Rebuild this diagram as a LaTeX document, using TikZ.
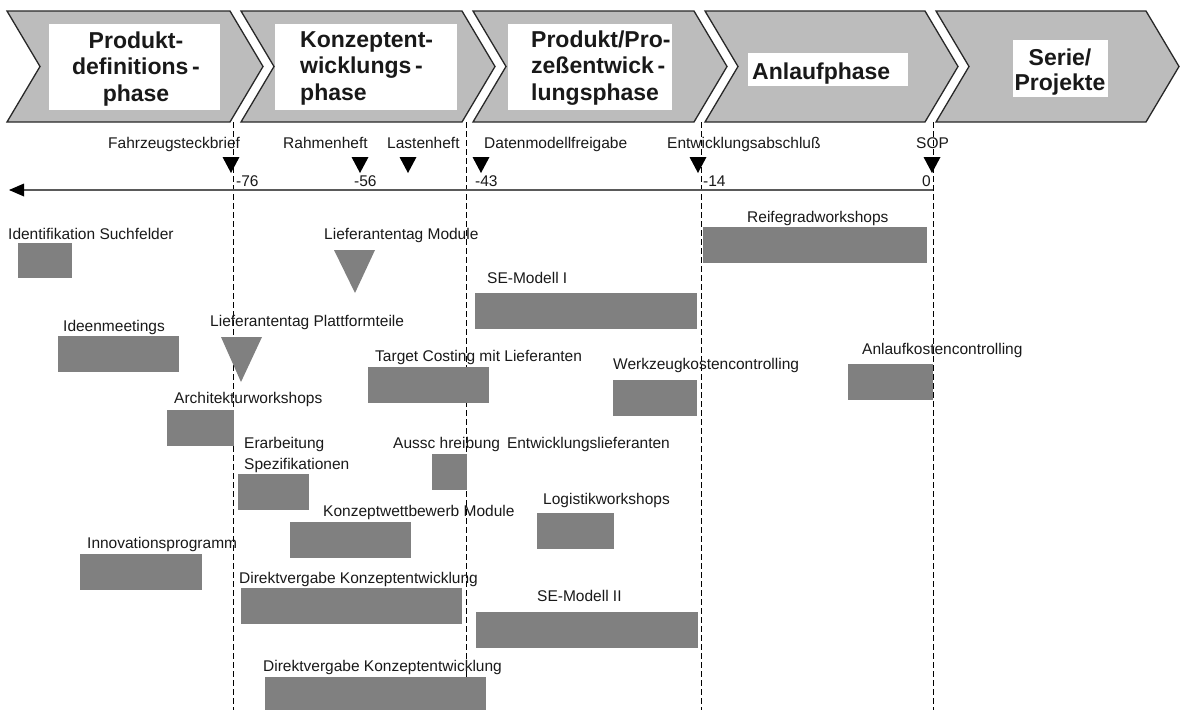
\documentclass[tikz,border=0pt]{standalone}
\usepackage{fontspec}
\setmainfont{Liberation Sans}
\definecolor{phasegray}{RGB}{188,188,188}
\definecolor{phaseline}{RGB}{40,40,40}
\definecolor{bargray}{RGB}{128,128,128}
\definecolor{axisgray}{RGB}{90,90,90}
\definecolor{ink}{RGB}{25,25,25}
\begin{document}
\begin{tikzpicture}[x=1pt,y=-1pt,
  phase/.style={draw=phaseline, line width=1.3pt, fill=phasegray, line join=miter},
  titlebox/.style={fill=white},
  title/.style={font=\fontsize{23}{26.5}\selectfont\bfseries, inner sep=0pt, text=ink},
  lbl/.style={font=\fontsize{15.5}{21}\selectfont, anchor=base west, inner sep=0pt, text=ink},
  num/.style={lbl},
  bar/.style={fill=bargray},
  milestone/.style={fill=black},
  event/.style={fill=bargray},
  guide/.style={draw=black, line width=1pt, dash pattern=on 6pt off 3pt},
  axis/.style={draw=axisgray, line width=2.5pt}
]
\useasboundingbox (0,0) rectangle (1180,710);

% ---- phase chevrons ----
\path[phase] (7,11) -- (230,11) -- (263,66.5) -- (230,122) -- (7,122) -- (40,66.5) -- cycle;
\path[phase] (241,11) -- (462,11) -- (495,66.5) -- (462,122) -- (241,122) -- (274,66.5) -- cycle;
\path[phase] (473,11) -- (694,11) -- (727,66.5) -- (694,122) -- (473,122) -- (506,66.5) -- cycle;
\path[phase] (705,11) -- (925,11) -- (958,66.5) -- (925,122) -- (705,122) -- (738,66.5) -- cycle;
\path[phase] (936,11) -- (1146,11) -- (1179,66.5) -- (1146,122) -- (936,122) -- (969,66.5) -- cycle;

\fill[titlebox] (49,24) rectangle (220,110);
\fill[titlebox] (275,24) rectangle (457,110);
\fill[titlebox] (508,24) rectangle (672,110);
\fill[titlebox] (748,53) rectangle (908,86);
\fill[titlebox] (1013,40) rectangle (1108,97);

% multi-line titles: the base anchor sits on the last line
\node[title, anchor=base, align=center] (p1) at (136,101) {Produkt-\\definitions\,-\\phase};
\node[title, anchor=base west, align=left] (p2) at (300,100) {Konzeptent-\\wicklungs\,-\\phase};
\node[title, anchor=base west, align=left] (p3) at (531,100) {Produkt/Pro-\\zeßentwick\,-\\lungsphase};
\node[title, anchor=base west] (p4) at (752,79) {Anlaufphase};
\node[title, anchor=base, align=center, font=\fontsize{23}{25}\selectfont\bfseries] (p5) at (1060,90) {Serie/\\Projekte};

% ---- phase boundaries ----
\foreach \gx/\gn in {233/g1, 466/g2, 701/g3, 933/g4} {
  \coordinate (\gn top) at (\gx,122);
  \coordinate (\gn bot) at (\gx,710);
  \draw[guide] (\gn top) -- (\gn bot);
}

% ---- time axis ----
\coordinate (axisL) at (9,190);
\coordinate (axisR) at (933,190);
\draw[axis] (axisR) -- ([xshift=12pt]axisL);
\fill[black] (axisL) -- ++(15,-6.5) -- ++(0,13) -- cycle;

% ---- milestones ----
\foreach \mx in {231, 360, 408, 481, 698, 932}
  \fill[milestone] (\mx-8.5,157) -- (\mx+8.5,157) -- (\mx,173) -- cycle;

\node[lbl] (m1) at (108,148) {Fahrzeugsteckbrief};
\node[lbl] (m2) at (283,148) {Rahmenheft};
\node[lbl] (m3) at (387,148) {Lastenheft};
\node[lbl] (m4) at (484,148) {Datenmodellfreigabe};
\node[lbl] (m5) at (667,148) {Entwicklungsabschluß};
\node[lbl] (m6) at (916,148) {SOP};

\node[num] (w1) at (236,186) {-76};
\node[num] (w2) at (354,186) {-56};
\node[num] (w3) at (475,186) {-43};
\node[num] (w4) at (703,186) {-14};
\node[num] (w5) at (922,186) {0};

% ---- activities ----
\node[lbl] (a1) at (8,239) {Identifikation Suchfelder};
\fill[bar] (18,243) rectangle (72,278);

\node[lbl] (a2) at (324,239) {Lieferantentag Module};
\fill[event] (334,250) -- (375,250) -- (355,293) -- cycle;

\node[lbl] (a3) at (487,283) {SE-Modell I};
\fill[bar] (475,293) rectangle (697,329);

\node[lbl] (a4) at (747,222) {Reifegradworkshops};
\fill[bar] (703,227) rectangle (927,263);

\node[lbl] (a5) at (63,331) {Ideenmeetings};
\fill[bar] (58,336) rectangle (179,372);

\node[lbl] (a6) at (210,326) {Lieferantentag Plattformteile};
\fill[event] (221,337) -- (262,337) -- (241,382) -- cycle;

\node[lbl] (a7) at (375,361) {Target Costing mit Lieferanten};
\fill[bar] (368,367) rectangle (489,403);

\node[lbl] (a8) at (613,369) {Werkzeugkostencontrolling};
\fill[bar] (613,380) rectangle (697,416);

\node[lbl] (a9) at (862,354) {Anlaufkostencontrolling};
\fill[bar] (848,364) rectangle (933,400);

\node[lbl] (a10) at (174,403) {Architekturworkshops};
\fill[bar] (167,410) rectangle (234,446);

\node[lbl, align=left] (a11) at (244,469) {Erarbeitung\\Spezifikationen};
\fill[bar] (238,474) rectangle (309,510);

\node[lbl] (a12) at (393,448) {Aussc hreibung\hspace{7pt}Entwicklungslieferanten};
\fill[bar] (432,454) rectangle (467,490);

\node[lbl] (a13) at (543,504) {Logistikworkshops};
\fill[bar] (537,513) rectangle (614,549);

\node[lbl] (a14) at (323,516) {Konzeptwettbewerb Module};
\fill[bar] (290,522) rectangle (411,558);

\node[lbl] (a15) at (87,548) {Innovationsprogramm};
\fill[bar] (80,554) rectangle (202,590);

\node[lbl] (a16) at (239,583) {Direktvergabe Konzeptentwicklung};
\fill[bar] (241,588) rectangle (462,624);

\node[lbl] (a17) at (537,601) {SE-Modell II};
\fill[bar] (476,612) rectangle (698,648);

\node[lbl] (a18) at (263,671) {Direktvergabe Konzeptentwicklung};
\fill[bar] (265,677) rectangle (486,710);
\end{tikzpicture}
\end{document}
